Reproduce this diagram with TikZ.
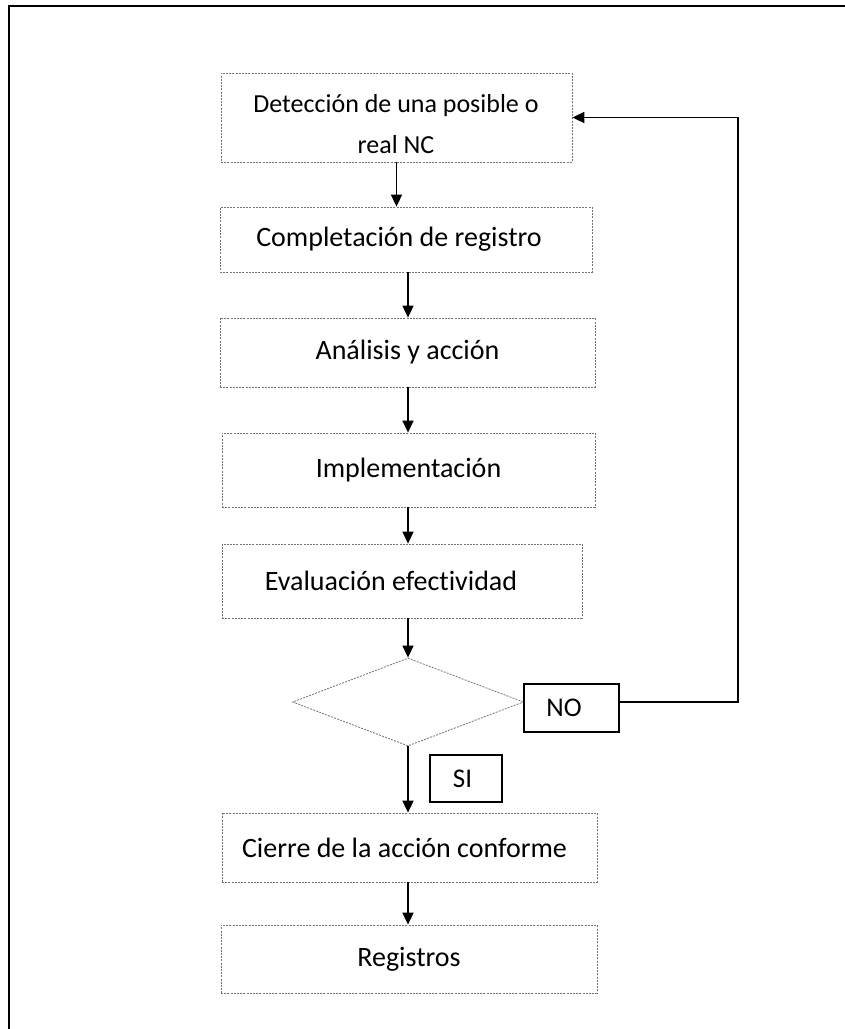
\documentclass[tikz,border=0pt]{standalone}
\usepackage{fontspec}
\setmainfont[Ligatures={NoCommon}]{Carlito}
\usetikzlibrary{shapes.geometric,arrows.meta}
\begin{document}
\begin{tikzpicture}[x=1pt,y=-1pt,
  stepbox/.style={draw=black!55, line width=0.8pt, dash pattern=on 2pt off 1.2pt,
    rectangle, inner sep=0pt, align=center, font=\fontsize{28}{41}\selectfont},
  steptext/.style={inner sep=0pt, align=center, font=\fontsize{26}{41}\selectfont},
  decbox/.style={draw=black!55, line width=0.8pt, dash pattern=on 2pt off 1.2pt,
    diamond, inner sep=0pt},
  lblbox/.style={draw=black, line width=1.5pt, rectangle, inner sep=0pt,
    font=\fontsize{27}{30}\selectfont},
  arr/.style={draw=black, line width=1.6pt, -{Triangle[length=12pt,width=11pt]}},
  frameline/.style={draw=black, line width=2pt}]
\useasboundingbox (0,0) rectangle (845,1029);
\draw[frameline] (9,1029) -- (9,6) -- (845,6);
\coordinate (axis) at (408,0);
\node[stepbox, minimum width=351pt, minimum height=89pt] (b1) at (396.5,117.5) {};
\node[steptext] (b1t) at (396,124) {Detección de una posible o\\real NC};
\node[stepbox, minimum width=372pt, minimum height=65pt] (b2) at (406,239.5) {\hspace*{-14pt}Completación de registro};
\node[stepbox, minimum width=375pt, minimum height=69pt] (b3) at (407.5,352.5) {Análisis y acción};
\node[stepbox, minimum width=373pt, minimum height=74pt] (b4) at (408.5,470) {Implementación};
\node[stepbox, minimum width=360pt, minimum height=74pt] (b5) at (402,581) {\hspace*{-22pt}Evaluación efectividad};
\node[decbox, minimum width=231pt, minimum height=88pt] (d) at (408,702) {};
\node[lblbox, minimum width=95pt, minimum height=48pt] (no) at (571.5,708) {\hspace*{-15pt}NO};
\node[lblbox, minimum width=72pt, minimum height=47pt] (si) at (466,778.5) {\hspace*{-7pt}SI};
\node[stepbox, minimum width=375pt, minimum height=69pt] (b6) at (409.5,847.5) {\hspace*{-10pt}Cierre de la acción conforme};
\node[stepbox, minimum width=376pt, minimum height=68pt] (b7) at (409,959) {Registros};
\draw[arr] (b1.south) -- (b1.south |- b2.north);
\draw[arr] (b2.south -| axis) -- (b3.north -| axis);
\draw[arr] (b3.south -| axis) -- (b4.north -| axis);
\draw[arr] (b4.south -| axis) -- (b5.north -| axis);
\draw[arr] (b5.south -| d.north) -- (d.north);
\draw[arr] (d.south) -- (d.south |- b6.north);
\draw[arr] (b6.south -| axis) -- (b7.north -| axis);
\draw[arr] (d.east -| no.east) -- ++(118,0) |- (b1.east);
\end{tikzpicture}
\end{document}
